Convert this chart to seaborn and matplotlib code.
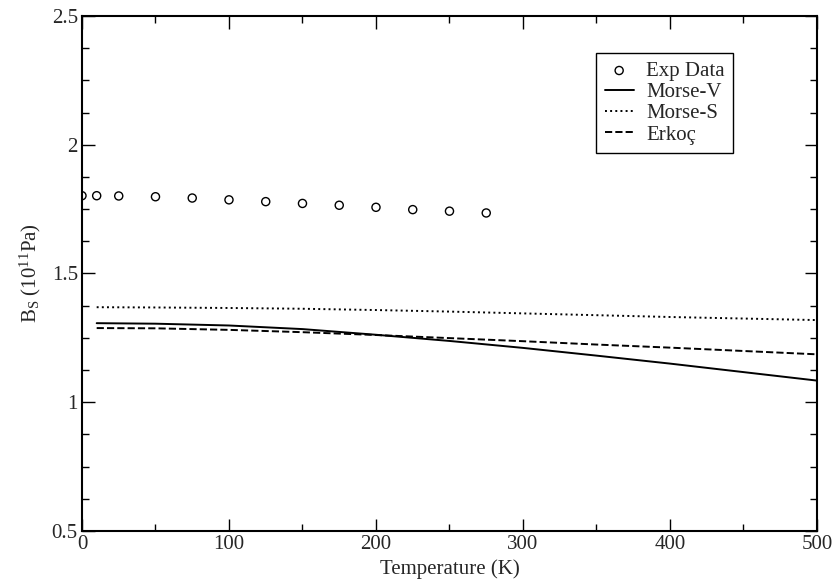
import matplotlib
matplotlib.use("Agg")
import matplotlib.pyplot as plt
import seaborn as sns
import pandas as pd
from matplotlib.ticker import MultipleLocator

# Measured adiabatic bulk modulus (10^11 Pa)
exp_T = [0, 10, 25, 50, 75, 100, 125, 150, 175, 200, 225, 250, 275]
exp_B = [1.802, 1.802, 1.801, 1.798, 1.793, 1.786, 1.779, 1.772, 1.765, 1.757, 1.748, 1.742, 1.735]

# Model curves
model_T = [10, 50, 100, 150, 200, 250, 300, 350, 400, 450, 500]
morse_v = [1.307, 1.305, 1.298, 1.284, 1.262, 1.238, 1.211, 1.181, 1.150, 1.117, 1.084]
morse_s = [1.369, 1.368, 1.366, 1.363, 1.358, 1.352, 1.345, 1.338, 1.331, 1.325, 1.319]
erkoc = [1.288, 1.287, 1.281, 1.272, 1.261, 1.249, 1.237, 1.224, 1.212, 1.199, 1.186]

sns.set_style("ticks")
plt.rcParams["font.family"] = ["Liberation Serif", "DejaVu Serif"]
plt.rcParams["mathtext.fontset"] = "custom"
plt.rcParams["mathtext.rm"] = "Liberation Serif"
plt.rcParams["mathtext.it"] = "Liberation Serif:italic"

FS = 15

fig = plt.figure(figsize=(8.34, 5.81), dpi=100)
ax = fig.add_axes([0.0983, 0.0861, 0.8813, 0.8864])

exp_df = pd.DataFrame({"T": exp_T, "B": exp_B})
sns.scatterplot(data=exp_df, x="T", y="B", ax=ax, marker="o", s=34,
                facecolor="none", edgecolor="black", linewidth=1.0,
                label="Exp Data", zorder=3)

for vals, ls, name in [(morse_v, "-", "Morse-V"),
                       (morse_s, ":", "Morse-S"),
                       (erkoc, "--", "Erkoç")]:
    df = pd.DataFrame({"T": model_T, "B": vals})
    sns.lineplot(data=df, x="T", y="B", ax=ax, color="black", linewidth=1.4,
                 linestyle=ls, label=name)

ax.set_xlim(0, 500)
ax.set_ylim(0.5, 2.5)
ax.xaxis.set_major_locator(MultipleLocator(100))
ax.xaxis.set_minor_locator(MultipleLocator(50))
ax.yaxis.set_major_locator(MultipleLocator(0.5))
ax.yaxis.set_minor_locator(MultipleLocator(0.125))
ax.set_yticks([0.5, 1.0, 1.5, 2.0, 2.5])
ax.set_yticklabels(["0.5", "1", "1.5", "2", "2.5"])

ax.tick_params(which="both", direction="in", top=True, right=True,
               color="black", labelsize=FS, width=1.0)
ax.tick_params(which="major", length=9, pad=3)
ax.tick_params(which="minor", length=5)
for sp in ax.spines.values():
    sp.set_visible(True)
    sp.set_color("black")
    sp.set_linewidth(1.5)

ax.set_xlabel("Temperature (K)", fontsize=FS, labelpad=4)
ax.set_ylabel(r"B$_\mathrm{S}$ (10$^{11}$Pa)", fontsize=FS, labelpad=6)

leg = ax.legend(loc="upper right", bbox_to_anchor=(0.886, 0.928),
                fontsize=FS, frameon=True, fancybox=False, edgecolor="black",
                handlelength=1.4, handletextpad=0.6, borderpad=0.4,
                labelspacing=0.08, borderaxespad=0)
leg.get_frame().set_linewidth(1.0)
leg.get_frame().set_alpha(1.0)

fig.savefig("out.png", dpi=100, facecolor="white")
